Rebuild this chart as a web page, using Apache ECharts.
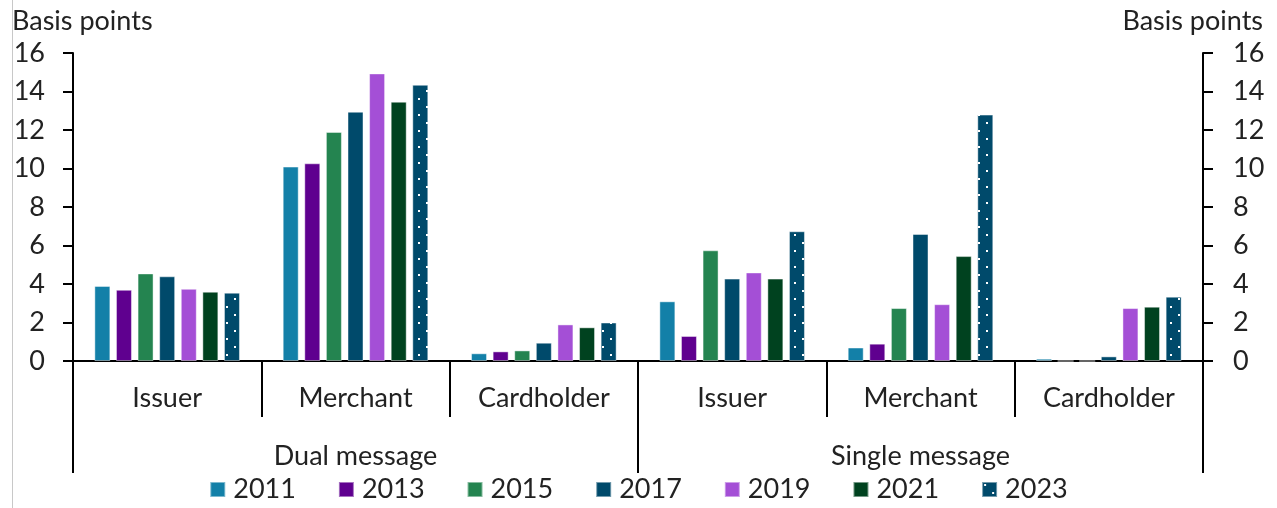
<!doctype html>
<html>
  <head>
    <meta charset="utf-8">
    <title>Basis points</title>
    <script src="https://cdn.jsdelivr.net/npm/echarts@6/dist/echarts.min.js"></script>
    <style>
      html, body { margin: 0; padding: 0; background: #fff; }
      #main { width: 1277px; height: 508px; }
    </style>
  </head>
  <body>
    <div id="main"></div>
    <script type="text/javascript">
      // categories and groups
      var categories = ['Issuer', 'Merchant', 'Cardholder', 'Issuer', 'Merchant', 'Cardholder'];
      var groups = ['Dual message', 'Single message'];
      var years = ['2011', '2013', '2015', '2017', '2019', '2021', '2023'];
      var yTicks = [0, 16, 2];

      // values per year, in basis points
      var v2011 = [3.9, 10.1, 0.4, 3.1, 0.7, 0.12];
      var v2013 = [3.7, 10.27, 0.5, 1.3, 0.9, 0];
      var v2015 = [4.55, 11.9, 0.55, 5.75, 2.75, 0];
      var v2017 = [4.4, 12.95, 0.95, 4.28, 6.6, 0.24];
      var v2019 = [3.75, 14.94, 1.9, 4.6, 2.95, 2.75];
      var v2021 = [3.6, 13.47, 1.75, 4.28, 5.45, 2.82];
      var v2023 = [3.55, 14.35, 2.0, 6.74, 12.8, 3.34];
      var values = [v2011, v2013, v2015, v2017, v2019, v2021, v2023];

      var colors = ['#1380a8', '#5f008f', '#248450', '#004a6b', '#a44fd6', '#00421f', '#004a6b'];

      // dotted fill for 2023
      var tile = document.createElement('canvas');
      tile.width = 16;
      tile.height = 16;
      var ctx = tile.getContext('2d');
      ctx.fillStyle = '#004a6b';
      ctx.fillRect(0, 0, 16, 16);
      ctx.fillStyle = '#ffffff';
      ctx.fillRect(2, 2, 2, 2);
      ctx.fillRect(10, 10, 2, 2);

      var font = 'Lato';
      var fs = 27;
      var myChart = echarts.init(document.getElementById('main'));

      var series = years.map(function (y, i) {
        return {
          name: y,
          type: 'bar',
          data: values[i],
          barWidth: 16,
          barGap: '35%',
          itemStyle: {
            color: i === 6 ? { image: tile, repeat: 'repeat' } : colors[i],
            borderColor: 'rgba(255,255,255,0.45)',
            borderWidth: 1
          }
        };
      });

      var option = {
        animation: false,
        textStyle: { fontFamily: font },
        grid: { left: 73, right: 74, top: 53, bottom: 147 },
        legend: {
          left: 'center',
          bottom: 0,
          itemWidth: 15,
          itemHeight: 15,
          itemGap: 42,
          icon: 'rect',
          textStyle: { fontFamily: font, fontSize: fs, color: '#222', padding: [0, 0, 0, 3] },
          data: years
        },
        graphic: [
          { type: 'rect', left: 12, top: 0, shape: { width: 1, height: 508 }, style: { fill: '#c8c8c8' } },
          { type: 'text', left: 12, top: 8, style: { text: 'Basis points', font: fs + 'px ' + font, fill: '#222' } },
          { type: 'text', right: 14, top: 8, style: { text: 'Basis points', font: fs + 'px ' + font, fill: '#222' } }
        ],
        xAxis: [
          {
            type: 'category',
            data: categories,
            position: 'bottom',
            axisLine: { lineStyle: { color: '#000', width: 2 } },
            axisTick: { show: true, interval: 0, length: 56, lineStyle: { color: '#000', width: 2 } },
            axisLabel: { interval: 0, margin: 24, fontSize: fs, color: '#222' }
          },
          {
            type: 'category',
            data: groups,
            position: 'bottom',
            axisLine: { show: false },
            axisTick: { show: true, interval: 0, length: 112, lineStyle: { color: '#000', width: 2 } },
            axisLabel: { interval: 0, margin: 82, fontSize: fs, color: '#222' }
          }
        ],
        yAxis: [
          {
            type: 'value',
            position: 'left',
            min: yTicks[0],
            max: yTicks[1],
            interval: yTicks[2],
            splitLine: { show: false },
            axisLine: { show: true, lineStyle: { color: '#000', width: 2 } },
            axisTick: { show: true, length: 10, lineStyle: { color: '#000', width: 2 } },
            axisLabel: { margin: 28, fontSize: fs, color: '#222' }
          },
          {
            type: 'value',
            position: 'right',
            min: yTicks[0],
            max: yTicks[1],
            interval: yTicks[2],
            splitLine: { show: false },
            axisLine: { show: true, lineStyle: { color: '#000', width: 2 } },
            axisTick: { show: true, length: 10, lineStyle: { color: '#000', width: 2 } },
            axisLabel: { margin: 30, fontSize: fs, color: '#222' }
          }
        ],
        series: series
      };
      myChart.setOption(option);
    </script>
  </body>
</html>
